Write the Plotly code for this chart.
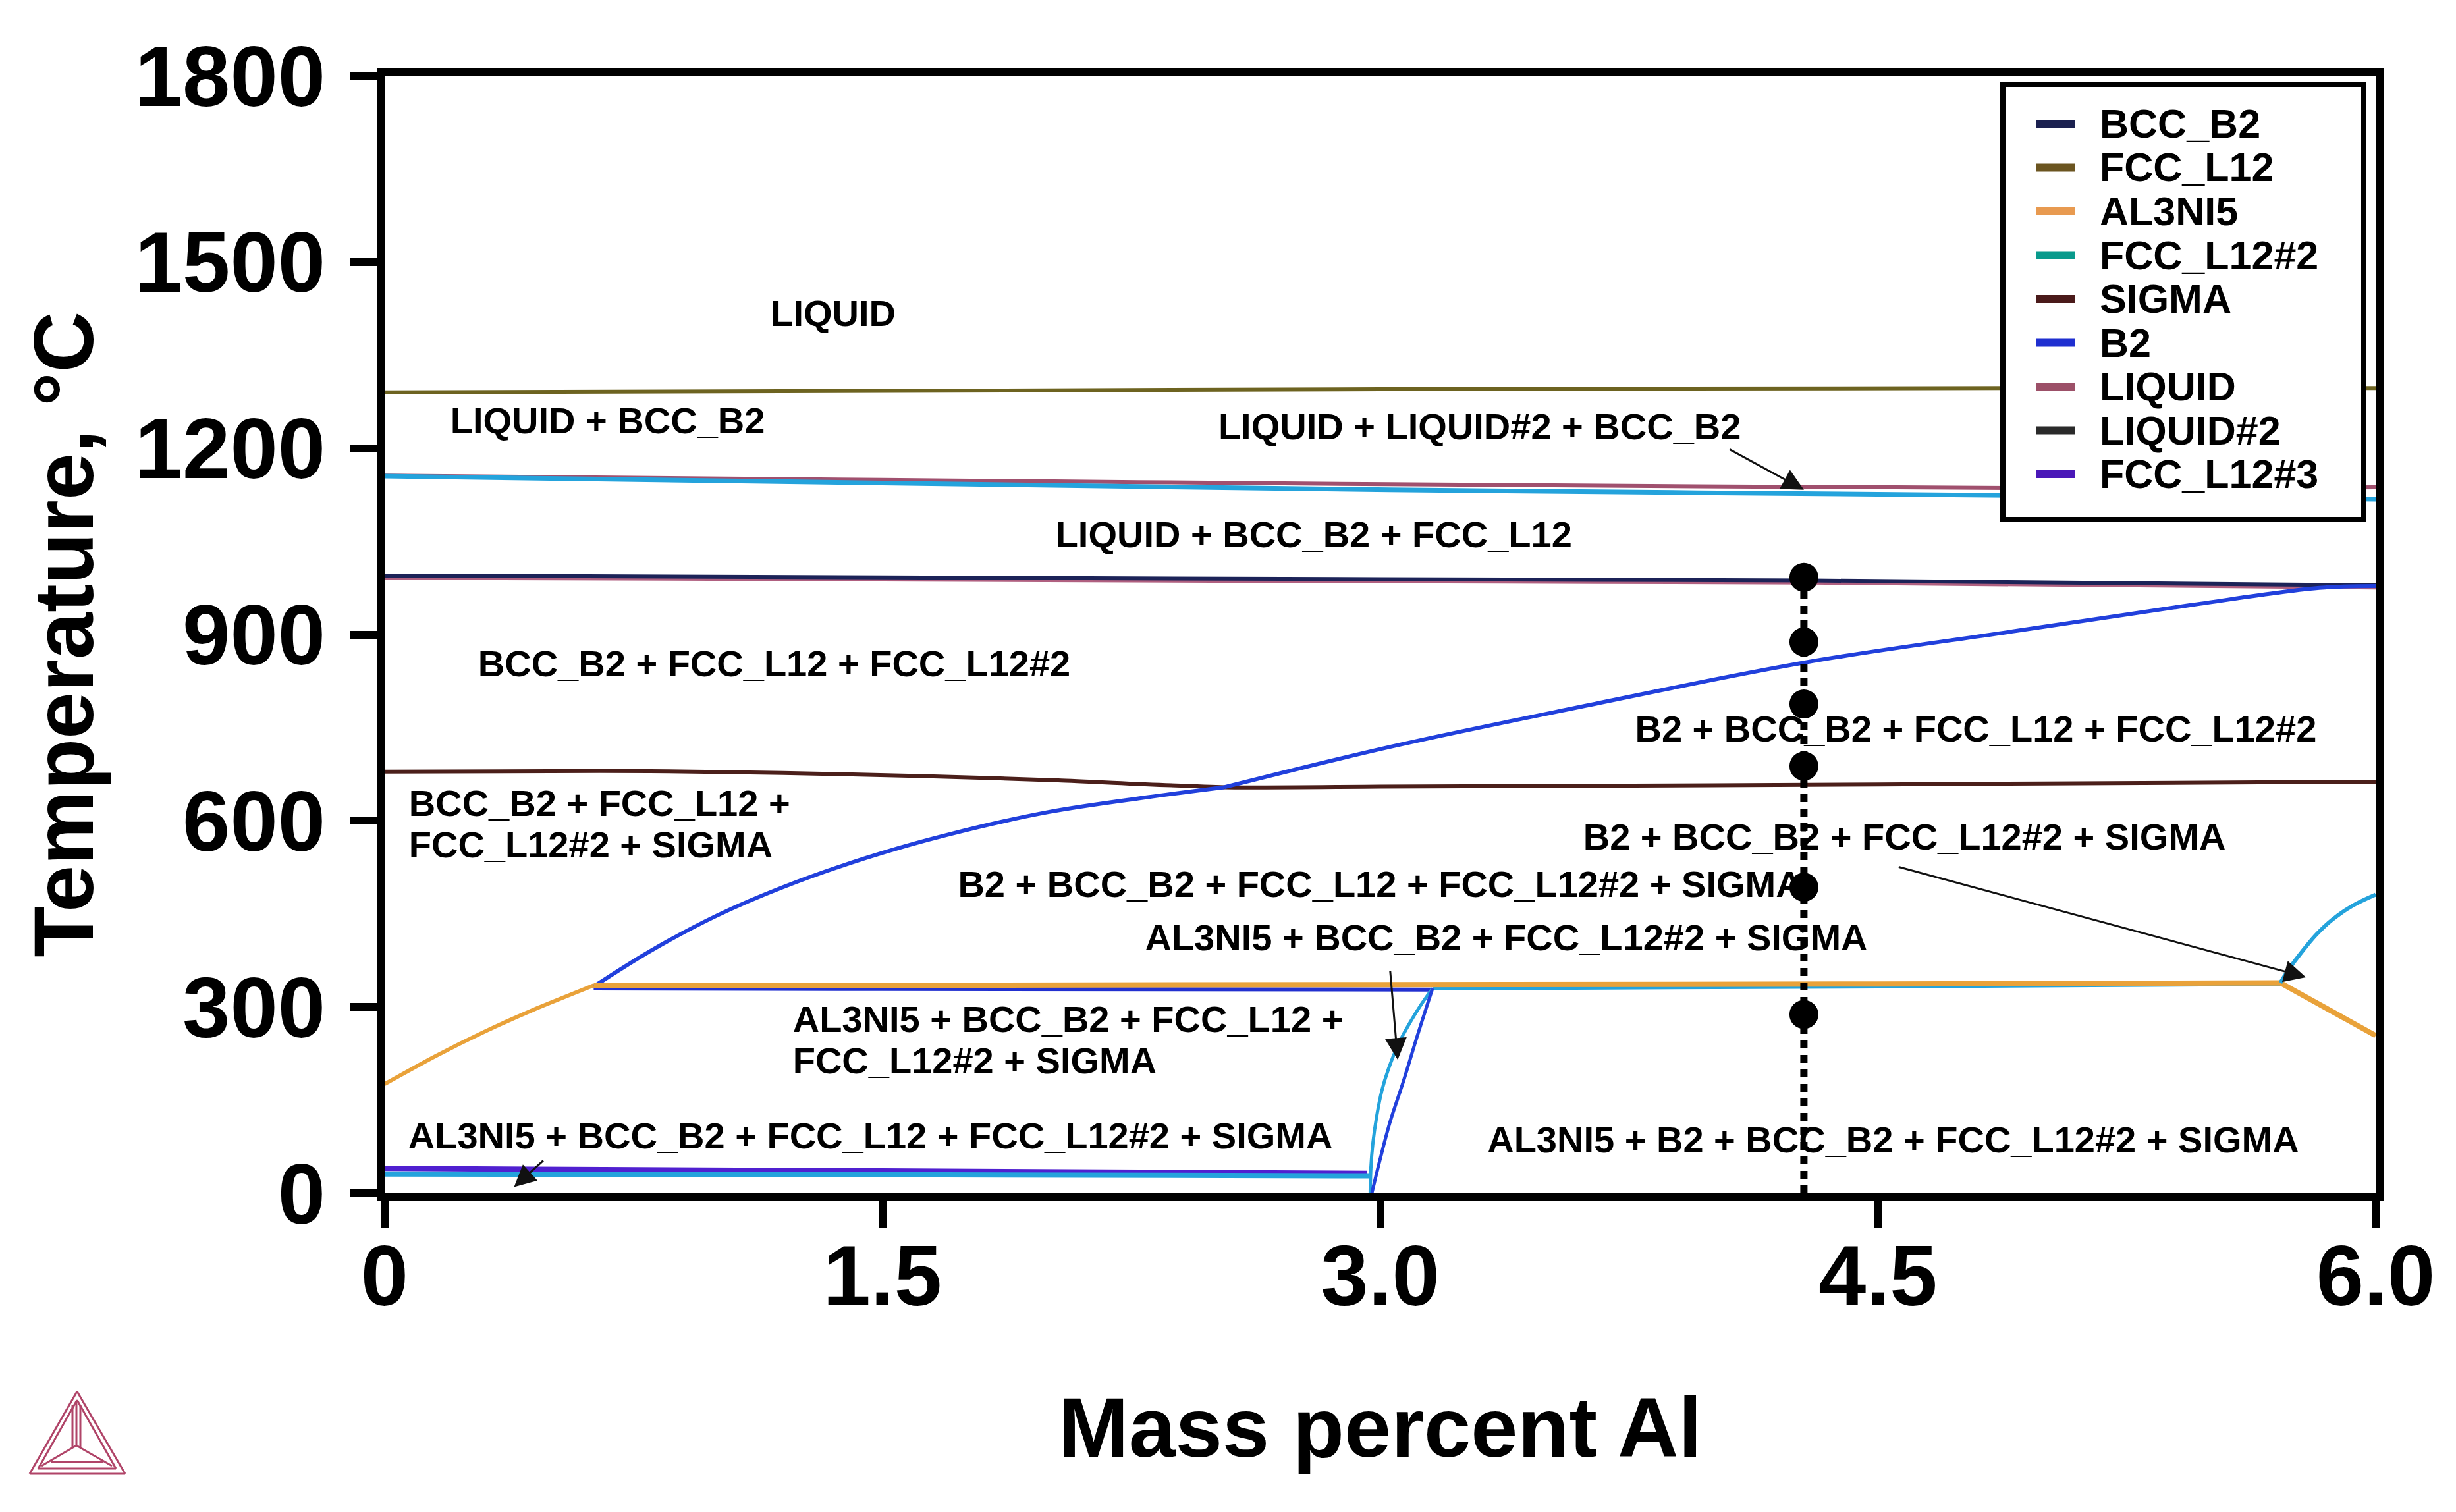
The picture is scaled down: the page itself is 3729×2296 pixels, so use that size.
import plotly.graph_objects as go

# phase boundary lines (x = mass percent Al, t = degC)
fcc_l12_x = [0, 3.0, 4.9, 6.0]
fcc_l12_t = [1290, 1295, 1297, 1297]

liquid_top_x = [0, 1.5, 3.03, 4.9, 6.0]
liquid_top_t = [1156, 1149, 1142, 1136, 1137]

cyan_top_x = [0, 1.5, 3.03, 4.9, 6.0]
cyan_top_t = [1155, 1144, 1133, 1124, 1118]

bcc_b2_x = [0, 1.5, 3.0, 4.3, 6.0]
bcc_b2_t = [995, 992, 989, 987, 979]

liquid_low_x = [0, 1.5, 3.0, 4.3, 6.0]
liquid_low_t = [991, 988, 985, 983, 975]

sigma_x = [0, 0.5, 0.8, 1.2, 1.62, 2.03, 2.53, 3.0, 4.0, 5.0, 6.0]
sigma_t = [679, 680, 680, 677, 672, 665, 654, 655, 657, 660, 663]

b2_low_x = [0.63, 0.8, 1.0, 1.2, 1.45, 1.7, 2.0, 2.3, 2.53]
b2_low_t = [333, 390, 447, 493, 540, 578, 614, 638, 654]

b2_high_x = [2.53, 3.03, 3.59, 4.28, 4.92, 5.45, 5.83, 6.0]
b2_high_t = [654, 719, 782, 855, 906, 948, 975, 978]

al3ni5_left_x = [0, 0.15, 0.3, 0.45, 0.63]
al3ni5_left_t = [176, 220, 260, 296, 335]

al3ni5_right_x = [0.63, 1.5, 3.0, 4.5, 5.713, 6.0]
al3ni5_right_t = [335, 335, 336, 337, 339, 254]

b2_flat_x = [0.63, 1.5, 3.158]
b2_flat_t = [330, 329, 328]

cyan_flat_x = [3.158, 4.5, 5.713]
cyan_flat_t = [330, 333, 337]

cyan_right_x = [5.713, 5.74, 5.775, 5.82, 5.87, 5.93, 6.0]
cyan_right_t = [339, 362, 387, 416, 441, 463, 481]

cyan_vert_x = [2.97, 2.972, 2.978, 2.99, 3.005, 3.025, 3.055, 3.09, 3.125, 3.158]
cyan_vert_t = [0, 40, 80, 125, 165, 200, 240, 275, 305, 330]

b2_vert_x = [2.975, 3.0, 3.03, 3.07, 3.11, 3.158]
b2_vert_t = [0, 55, 115, 180, 250, 330]

fcc3_low_x = [0, 1.5, 2.96]
fcc3_low_t = [40, 36, 32]

cyan_low_x = [0, 1.5, 2.97]
cyan_low_t = [31, 30, 28]

# vertical section at the alloy composition and the marked temperatures
alloy_x = 4.277
alloy_points_t = [992, 888, 788, 688, 493, 288]

# region labels
label_text = [
    "LIQUID",
    "LIQUID + BCC_B2",
    "LIQUID + LIQUID#2 + BCC_B2",
    "LIQUID + BCC_B2 + FCC_L12",
    "BCC_B2 + FCC_L12 + FCC_L12#2",
    "B2 + BCC_B2 + FCC_L12 + FCC_L12#2",
    "BCC_B2 + FCC_L12 +",
    "FCC_L12#2 + SIGMA",
    "B2 + BCC_B2 + FCC_L12#2 + SIGMA",
    "B2 + BCC_B2 + FCC_L12 + FCC_L12#2 + SIGMA",
    "AL3NI5 + BCC_B2 + FCC_L12#2 + SIGMA",
    "AL3NI5 + BCC_B2 + FCC_L12 +",
    "FCC_L12#2 + SIGMA",
    "AL3NI5 + BCC_B2 + FCC_L12 + FCC_L12#2 + SIGMA",
    "AL3NI5 + B2 + BCC_B2 + FCC_L12#2 + SIGMA",
]
label_x = [1.352, 0.672, 3.30, 2.80, 1.174, 4.795, 0.073, 0.073, 4.58, 3.0,
           3.38, 1.230, 1.230, 1.464, 4.546]
label_t = [1412, 1239, 1229, 1055, 848, 742, 623, 556, 569, 492,
           406, 275, 208, 87, 81]
label_pos = ["middle center"] * 6 + ["middle right"] * 2 + ["middle center"] * 3 \
    + ["middle right"] * 2 + ["middle center"] * 2

# arrows: (head x, head t, tail x, tail t)
arrow_head_x = [4.277, 5.79, 3.053, 0.39]
arrow_head_t = [1133, 348, 215, 10]
arrow_tail_x = [4.05, 4.56, 3.03, 0.481]
arrow_tail_t = [1199, 526, 360, 54]

legend_names = ["BCC_B2", "FCC_L12", "AL3NI5", "FCC_L12#2", "SIGMA", "B2",
                "LIQUID", "LIQUID#2", "FCC_L12#3"]
legend_colors = ["#1b2150", "#6b5520", "#e89a50", "#089a8c", "#4a1a1a",
                 "#1f2fd0", "#9c5068", "#2a2a2a", "#4a18b8"]

x_ticks = [0, 1.5, 3.0, 4.5, 6.0]
x_tick_text = ["0", "1.5", "3.0", "4.5", "6.0"]
y_ticks = [0, 300, 600, 900, 1200, 1500, 1800]

FONT = "Liberation Sans, Arial, sans-serif"
W, H = 3729, 2296
PLOT_L, PLOT_R, PLOT_T, PLOT_B = 576, 3599, 107, 1804


def px_to_paper(px, py):
    return (px - PLOT_L) / (PLOT_R - PLOT_L), (PLOT_B - py) / (PLOT_B - PLOT_T)


fig = go.Figure()


def add_line(x, t, color, width, smooth=0.6):
    fig.add_trace(
        go.Scatter(
            x=x, y=t, mode="lines", showlegend=False, hoverinfo="skip",
            line=dict(color=color, width=width, shape="spline", smoothing=smooth),
        )
    )


add_line(fcc_l12_x, fcc_l12_t, "#6d6320", 6)
add_line(liquid_top_x, liquid_top_t, "#a0506e", 6)
add_line(cyan_top_x, cyan_top_t, "#24a3dc", 7)
add_line(liquid_low_x, liquid_low_t, "#b06080", 5)
add_line(bcc_b2_x, bcc_b2_t, "#1c2358", 6)
add_line(sigma_x, sigma_t, "#4b1f1a", 6)
add_line(b2_low_x, b2_low_t, "#2140dc", 6, 1.0)
add_line(b2_high_x, b2_high_t, "#2140dc", 6, 1.0)
add_line(b2_flat_x, b2_flat_t, "#2230d0", 6)
add_line(cyan_flat_x, cyan_flat_t, "#24a3dc", 6)
add_line(al3ni5_left_x, al3ni5_left_t, "#e9a23a", 6)
add_line(al3ni5_right_x, al3ni5_right_t, "#e9a23a", 8, 0)
add_line(cyan_right_x, cyan_right_t, "#24a3dc", 6, 1.0)
add_line(cyan_vert_x, cyan_vert_t, "#24a3dc", 5, 1.0)
add_line(b2_vert_x, b2_vert_t, "#2140dc", 5, 1.0)
add_line(fcc3_low_x, fcc3_low_t, "#5020d0", 8)
add_line(cyan_low_x, cyan_low_t, "#24a3dc", 8)

# region labels below the section markers
fig.add_trace(
    go.Scatter(
        x=label_x, y=label_t, mode="text", text=label_text,
        textposition=label_pos, showlegend=False, hoverinfo="skip",
        textfont=dict(family=FONT, size=56, color="black", weight="bold"),
    )
)

# dotted section line and equilibrium points
fig.add_trace(
    go.Scatter(
        x=[alloy_x, alloy_x], y=[0, alloy_points_t[0]], mode="lines",
        showlegend=False, hoverinfo="skip",
        line=dict(color="black", width=11, dash="12px,10px"),
    )
)
fig.add_trace(
    go.Scatter(
        x=[alloy_x] * len(alloy_points_t), y=alloy_points_t, mode="markers",
        showlegend=False, hoverinfo="skip",
        marker=dict(color="black", size=44),
    )
)

annotations = []
for hx, ht, tx, tt in zip(arrow_head_x, arrow_head_t, arrow_tail_x, arrow_tail_t):
    annotations.append(
        dict(
            x=hx, y=ht, ax=tx, ay=tt, xref="x", yref="y", axref="x", ayref="y",
            text="", showarrow=True, arrowhead=2, arrowsize=2.2,
            arrowwidth=3, arrowcolor="#111111",
        )
    )

shapes = []

# legend box drawn above the traces
bx0, by0 = px_to_paper(3033, 781)
bx1, by1 = px_to_paper(3581, 120)
shapes.append(
    dict(type="rect", xref="paper", yref="paper", x0=bx0, y0=by0, x1=bx1, y1=by1,
         line=dict(color="black", width=8), fillcolor="white", layer="above")
)
for i, (name, color) in enumerate(zip(legend_names, legend_colors)):
    row_y = 180 + i * 66.5
    lx0, ly = px_to_paper(3083, row_y)
    lx1, _ = px_to_paper(3143, row_y)
    shapes.append(
        dict(type="line", xref="paper", yref="paper", x0=lx0, y0=ly, x1=lx1, y1=ly,
             line=dict(color=color, width=12), layer="above")
    )
    tx, _ = px_to_paper(3178, row_y)
    annotations.append(
        dict(x=tx, y=ly, xref="paper", yref="paper", text=name, showarrow=False,
             xanchor="left", yanchor="middle",
             font=dict(family=FONT, size=61, color="black", weight="bold"))
    )

# Thermo-Calc logo, bottom left
logo_color = "#b04468"
logo_segments = [
    ((109, 2105), (37, 2230)), ((37, 2230), (182, 2230)), ((182, 2230), (109, 2105)),
    ((109, 2118), (50, 2222)), ((50, 2222), (168, 2222)), ((168, 2222), (109, 2118)),
    ((108, 2120), (108, 2187)), ((108, 2187), (55, 2218)), ((108, 2187), (162, 2218)),
    ((102, 2125), (102, 2190)), ((114, 2125), (114, 2190)),
    ((70, 2212), (148, 2212)),
]
for (p0x, p0y), (p1x, p1y) in logo_segments:
    x0, y0 = px_to_paper(p0x, p0y)
    x1, y1 = px_to_paper(p1x, p1y)
    shapes.append(
        dict(type="line", xref="paper", yref="paper", x0=x0, y0=y0, x1=x1, y1=y1,
             line=dict(color=logo_color, width=3))
    )

axis_common = dict(
    showline=True, linewidth=12, linecolor="black", mirror=True,
    ticks="outside", ticklen=40, tickwidth=12, tickcolor="black",
    showgrid=False, zeroline=False,
    tickfont=dict(family=FONT, size=130, color="black", weight="bold"),
)

fig.update_layout(
    width=W, height=H,
    paper_bgcolor="white", plot_bgcolor="white",
    margin=dict(l=PLOT_L, r=W - PLOT_R, t=PLOT_T, b=H - PLOT_B, autoexpand=False),
    xaxis=dict(
        range=[0, 6], tickvals=x_ticks, ticktext=x_tick_text,
        ticklabelstandoff=-38,
        title=dict(text="Mass percent Al", standoff=118,
                   font=dict(family=FONT, size=128, color="black", weight="bold")),
        **axis_common,
    ),
    yaxis=dict(
        range=[0, 1800], tickvals=y_ticks, ticklabelstandoff=12,
        title=dict(text="Temperature, °C", standoff=25,
                   font=dict(family=FONT, size=128, color="black", weight="bold")),
        **axis_common,
    ),
    shapes=shapes,
    annotations=annotations,
    showlegend=False,
)

fig.write_html("out.html")
